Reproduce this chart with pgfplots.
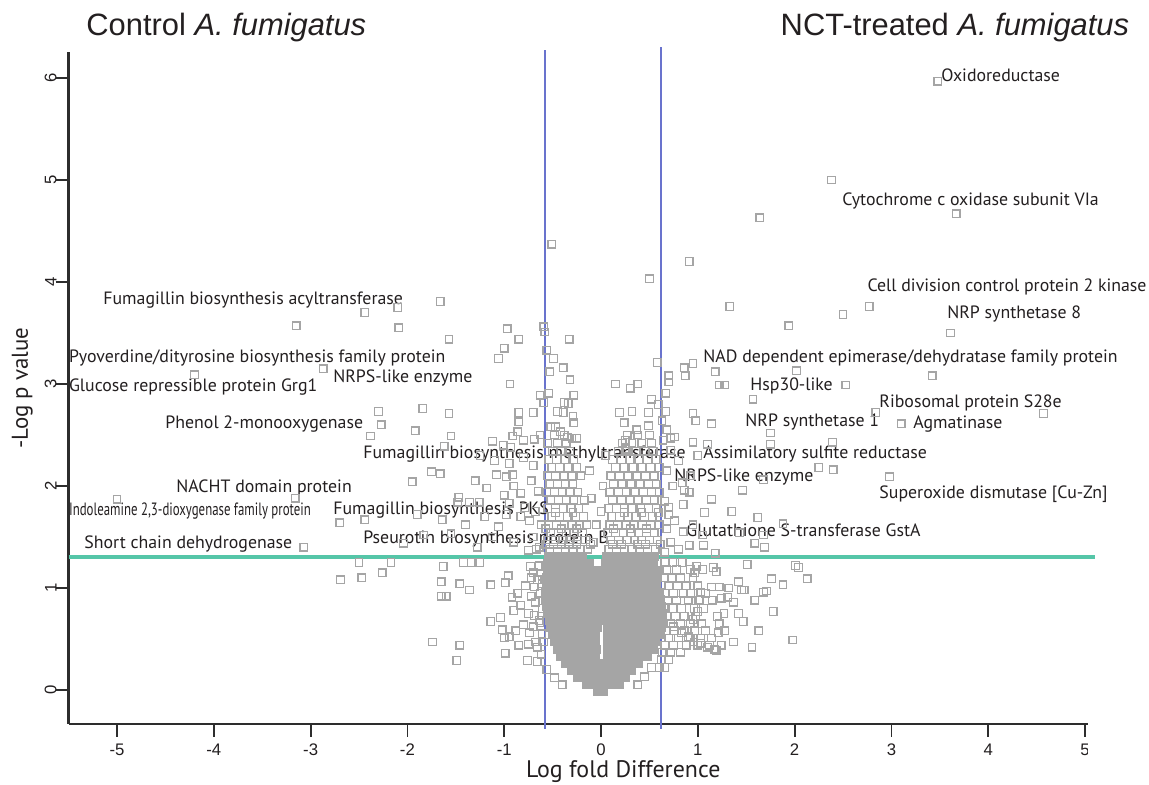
\documentclass[border=0pt]{standalone}
\usepackage{pgfplots}
\pgfplotsset{compat=1.18}
\usepackage{fontspec}
\usepackage{graphicx}
\setmainfont{PT Sans}
\newfontfamily\titlefont{Liberation Sans}
\newfontfamily\tickfont{Liberation Sans}

\definecolor{txt}{RGB}{35,31,32}
\definecolor{pt}{RGB}{165,165,165}
\definecolor{vline}{RGB}{105,115,205}
\definecolor{thr}{RGB}{85,198,168}
\definecolor{ax}{RGB}{45,45,45}

% dense centre of the volcano (drawn as filled squares)
\pgfplotstableread{
x y
-0.04 -0.02
0.03 -0.02
-0.15 0.05
-0.08 0.05
-0.01 0.05
0.06 0.05
0.13 0.05
0.19 0.05
-0.24 0.12
-0.17 0.12
-0.10 0.12
-0.03 0.12
0.04 0.12
0.11 0.12
0.18 0.12
0.25 0.12
-0.31 0.19
-0.24 0.19
-0.17 0.19
-0.10 0.19
-0.03 0.19
0.04 0.19
0.11 0.19
0.18 0.19
0.25 0.19
0.32 0.19
-0.37 0.26
-0.30 0.26
-0.23 0.26
-0.16 0.26
-0.09 0.26
-0.03 0.26
0.05 0.26
0.12 0.26
0.19 0.26
0.26 0.26
0.33 0.26
0.39 0.26
-0.42 0.33
-0.35 0.33
-0.28 0.33
-0.21 0.33
-0.14 0.33
-0.06 0.33
0.07 0.33
0.14 0.33
0.21 0.33
0.28 0.33
0.35 0.33
0.42 0.33
0.48 0.33
-0.45 0.40
-0.38 0.40
-0.31 0.40
-0.24 0.40
-0.17 0.40
-0.10 0.40
-0.05 0.40
0.07 0.40
0.14 0.40
0.21 0.40
0.28 0.40
0.35 0.40
0.42 0.40
0.49 0.40
0.54 0.40
-0.48 0.47
-0.41 0.47
-0.34 0.47
-0.27 0.47
-0.20 0.47
-0.13 0.47
-0.06 0.47
0.07 0.47
0.14 0.47
0.21 0.47
0.28 0.47
0.35 0.47
0.42 0.47
0.49 0.47
0.56 0.47
-0.50 0.54
-0.43 0.54
-0.36 0.54
-0.29 0.54
-0.22 0.54
-0.15 0.54
-0.06 0.54
0.07 0.54
0.14 0.54
0.21 0.54
0.28 0.54
0.35 0.54
0.42 0.54
0.49 0.54
0.56 0.54
0.62 0.54
-0.52 0.61
-0.45 0.61
-0.38 0.61
-0.31 0.61
-0.24 0.61
-0.17 0.61
-0.10 0.61
-0.04 0.61
0.07 0.61
0.14 0.61
0.21 0.61
0.28 0.61
0.35 0.61
0.42 0.61
0.49 0.61
0.56 0.61
0.63 0.61
-0.53 0.68
-0.46 0.68
-0.39 0.68
-0.32 0.68
-0.25 0.68
-0.18 0.68
-0.11 0.68
-0.04 0.68
0.03 0.68
0.10 0.68
0.17 0.68
0.24 0.68
0.31 0.68
0.38 0.68
0.45 0.68
0.52 0.68
0.59 0.68
0.64 0.68
-0.55 0.75
-0.48 0.75
-0.41 0.75
-0.34 0.75
-0.27 0.75
-0.20 0.75
-0.13 0.75
-0.06 0.75
0.01 0.75
0.08 0.75
0.15 0.75
0.22 0.75
0.29 0.75
0.36 0.75
0.43 0.75
0.50 0.75
0.57 0.75
0.64 0.75
-0.56 0.82
-0.49 0.82
-0.42 0.82
-0.35 0.82
-0.28 0.82
-0.21 0.82
-0.14 0.82
-0.07 0.82
0.00 0.82
0.07 0.82
0.14 0.82
0.21 0.82
0.28 0.82
0.35 0.82
0.42 0.82
0.49 0.82
0.56 0.82
0.63 0.82
-0.57 0.89
-0.50 0.89
-0.43 0.89
-0.36 0.89
-0.29 0.89
-0.22 0.89
-0.15 0.89
-0.08 0.89
-0.01 0.89
0.06 0.89
0.13 0.89
0.20 0.89
0.27 0.89
0.34 0.89
0.41 0.89
0.48 0.89
0.55 0.89
0.62 0.89
-0.57 0.96
-0.50 0.96
-0.43 0.96
-0.36 0.96
-0.29 0.96
-0.22 0.96
-0.15 0.96
-0.08 0.96
0.00 0.96
0.07 0.96
0.14 0.96
0.21 0.96
0.28 0.96
0.35 0.96
0.42 0.96
0.49 0.96
0.56 0.96
0.61 0.96
-0.56 1.03
-0.49 1.03
-0.42 1.03
-0.35 1.03
-0.28 1.03
-0.21 1.03
-0.14 1.03
-0.07 1.03
0.01 1.03
0.08 1.03
0.15 1.03
0.22 1.03
0.29 1.03
0.36 1.03
0.43 1.03
0.50 1.03
0.57 1.03
-0.56 1.10
-0.49 1.10
-0.42 1.10
-0.35 1.10
-0.28 1.10
-0.21 1.10
-0.14 1.10
-0.06 1.10
0.02 1.10
0.09 1.10
0.16 1.10
0.23 1.10
0.30 1.10
0.37 1.10
0.44 1.10
0.51 1.10
0.58 1.10
-0.55 1.17
-0.48 1.17
-0.41 1.17
-0.34 1.17
-0.27 1.17
-0.20 1.17
-0.13 1.17
-0.05 1.17
0.04 1.17
0.11 1.17
0.18 1.17
0.25 1.17
0.32 1.17
0.39 1.17
0.46 1.17
0.53 1.17
0.58 1.17
-0.55 1.24
-0.48 1.24
-0.41 1.24
-0.34 1.24
-0.27 1.24
-0.20 1.24
-0.12 1.24
0.05 1.24
0.12 1.24
0.19 1.24
0.26 1.24
0.33 1.24
0.40 1.24
0.47 1.24
0.54 1.24
-0.54 1.31
-0.47 1.31
-0.40 1.31
-0.33 1.31
-0.26 1.31
-0.19 1.31
0.06 1.31
0.13 1.31
0.20 1.31
0.27 1.31
0.34 1.31
0.41 1.31
0.48 1.31
0.55 1.31
}\coretable

% all other proteins
\pgfplotstableread{
x y
3.48 5.97
2.38 5.00
3.67 4.67
1.64 4.63
0.91 4.20
0.50 4.03
-0.51 4.37
2.77 3.76
2.50 3.68
1.94 3.57
1.33 3.76
3.61 3.50
3.42 3.08
2.02 3.13
2.53 2.99
1.57 2.85
2.84 2.72
4.57 2.71
3.10 2.61
2.39 2.43
1.75 2.52
1.75 2.41
2.98 2.09
2.25 2.18
2.40 2.16
1.46 1.96
1.88 1.63
1.62 1.69
1.59 1.44
1.69 1.40
2.01 1.22
1.51 1.23
1.68 2.06
0.86 1.96
0.91 1.94
0.85 1.82
1.14 1.87
1.07 1.74
1.35 1.75
0.70 1.79
0.70 1.72
1.68 1.52
0.91 1.42
1.06 1.42
2.04 1.20
2.13 1.09
1.88 1.03
1.76 1.09
1.68 0.96
1.71 0.97
1.59 0.88
1.78 0.77
1.63 0.58
1.98 0.49
1.56 0.42
1.37 0.47
1.21 0.56
1.17 0.40
1.22 0.65
1.14 1.01
1.22 1.01
1.32 1.00
1.42 1.06
1.45 0.98
1.48 0.98
1.19 1.16
1.16 1.20
0.99 1.21
0.97 1.15
1.24 0.90
1.31 0.91
1.37 0.86
1.42 0.75
1.47 0.67
1.27 0.75
1.03 0.96
1.01 0.88
1.00 0.77
0.95 0.69
0.75 0.62
0.83 0.56
0.90 0.52
0.96 0.47
1.03 0.46
1.10 0.42
1.19 0.39
0.58 3.21
0.70 3.08
0.70 3.02
0.86 3.16
0.87 3.08
0.95 3.20
1.18 3.12
1.22 2.99
1.28 2.99
0.15 3.00
0.30 2.96
0.38 3.00
0.52 2.85
0.59 2.80
0.67 2.91
0.19 2.72
0.32 2.73
0.49 2.72
0.24 2.62
0.49 2.59
0.63 2.64
0.67 2.73
0.37 2.55
0.68 2.55
0.72 2.47
0.76 2.48
0.95 2.71
0.98 2.64
1.14 2.61
0.95 2.43
1.10 2.41
0.25 2.45
0.25 2.36
0.84 2.03
1.43 1.54
1.18 1.34
1.05 1.52
-5.00 1.87
-3.16 1.88
-3.07 1.40
-4.20 3.09
-3.15 3.57
-2.87 3.15
-2.44 3.70
-2.10 3.75
-2.09 3.55
-1.66 3.81
-1.57 3.44
-2.30 2.73
-2.27 2.60
-2.38 2.49
-1.84 2.76
-1.92 2.54
-1.57 2.71
-1.55 2.49
-1.95 2.04
-2.70 1.64
-2.44 1.67
-2.50 1.25
-2.17 1.25
-2.69 1.08
-2.47 1.10
-2.26 1.15
-0.97 3.54
-0.85 3.44
-0.59 3.56
-0.58 3.51
-0.33 3.44
-1.00 3.35
-1.06 3.25
-0.56 3.33
-0.49 3.25
-0.39 3.16
-0.53 3.12
-0.32 3.04
-0.94 3.00
-0.63 2.89
-0.54 2.91
-0.59 2.82
-0.28 2.89
-0.38 2.82
-0.34 2.81
-0.85 2.72
-0.85 2.63
-0.70 2.72
-0.45 2.73
-0.39 2.72
-0.29 2.68
-0.28 2.62
-0.86 2.53
-0.91 2.49
-1.12 2.44
-1.62 2.39
-1.01 2.40
-0.93 2.38
-0.80 2.45
-0.69 2.46
-0.63 2.50
-0.52 2.58
-0.47 2.58
-0.42 2.53
-0.35 2.48
-0.30 2.47
-0.25 2.47
-1.75 2.14
-1.66 2.12
-1.08 2.11
-0.98 2.09
-0.91 2.11
-0.83 1.93
-1.00 1.91
-1.26 1.84
-1.48 1.84
-1.47 1.89
-1.36 1.84
-1.06 1.60
-0.74 1.66
-0.83 1.70
-0.79 1.79
-0.95 1.83
-1.55 1.53
-2.04 1.44
-1.83 1.52
-1.64 1.67
-1.90 1.72
-1.74 0.47
-1.46 0.44
-1.49 0.29
-0.99 0.36
-0.76 0.29
-1.04 0.71
-1.14 0.67
-1.02 0.59
-1.00 0.51
-0.85 0.44
-0.88 0.58
-0.75 0.75
-0.69 0.73
-0.74 0.56
-0.68 0.47
-0.59 0.47
-0.63 0.66
-1.65 0.92
-1.60 0.92
-1.65 1.06
-1.46 1.04
-1.36 0.98
-1.14 1.03
-0.99 1.05
-0.96 1.12
-0.92 0.91
-1.63 1.21
-1.42 1.25
-1.34 1.25
-1.25 1.25
-0.73 1.21
-0.65 1.21
-0.75 1.37
-0.67 1.38
-0.72 1.10
-0.66 1.08
-0.61 1.04
-0.69 1.01
-0.62 0.35
-0.66 0.42
-0.61 0.55
-0.70 0.62
-0.64 0.68
-0.61 0.80
-0.68 0.86
-0.63 0.95
-0.72 0.92
-0.61 1.08
-0.70 1.15
-0.64 1.22
-0.78 1.02
-0.83 0.83
-0.80 0.64
-0.90 0.78
-0.95 0.52
-0.86 0.95
-0.75 0.45
-0.66 0.28
-0.56 0.20
-0.48 0.12
-0.40 0.05
0.38 0.05
0.45 0.13
0.52 0.22
0.66 1.25
0.74 1.25
0.84 1.25
0.68 1.18
0.78 1.18
0.92 1.18
1.05 1.18
0.65 1.10
0.73 1.10
0.82 1.10
0.95 1.10
0.70 1.02
0.79 1.02
0.88 1.02
1.00 1.02
0.66 0.95
0.75 0.95
0.85 0.95
0.93 0.95
1.08 0.95
0.69 0.88
0.78 0.88
0.90 0.88
1.02 0.88
1.15 0.88
0.65 0.80
0.74 0.80
0.83 0.80
0.96 0.80
1.06 0.80
0.68 0.72
0.77 0.72
0.86 0.72
0.98 0.72
1.20 0.72
0.64 0.65
0.72 0.65
0.82 0.65
0.92 0.65
1.04 0.65
0.67 0.58
0.76 0.58
0.86 0.58
0.97 0.58
1.08 0.58
1.28 0.58
0.70 0.51
0.80 0.51
0.92 0.51
1.03 0.51
1.14 0.51
0.66 0.44
0.75 0.44
0.88 0.44
1.00 0.44
1.12 0.44
1.24 0.44
0.63 0.37
0.72 0.37
0.82 0.37
0.62 0.30
0.70 0.30
0.60 0.22
0.66 0.22
-0.53 1.38
-0.45 1.38
-0.37 1.38
-0.29 1.38
-0.21 1.38
-0.14 1.38
0.08 1.38
0.16 1.38
0.24 1.38
0.32 1.38
0.40 1.38
0.48 1.38
0.56 1.38
-0.57 1.43
-0.49 1.43
-0.41 1.43
-0.33 1.43
-0.25 1.43
-0.11 1.43
0.12 1.43
0.21 1.43
0.38 1.43
0.46 1.43
0.61 1.43
-0.55 1.47
-0.47 1.47
-0.40 1.47
-0.31 1.47
-0.24 1.47
-0.16 1.47
0.10 1.47
0.18 1.47
0.27 1.47
0.35 1.47
0.42 1.47
0.50 1.47
0.58 1.47
-0.52 1.54
-0.44 1.54
-0.36 1.54
-0.28 1.54
-0.19 1.54
0.07 1.54
0.15 1.54
0.23 1.54
0.31 1.54
0.39 1.54
0.47 1.54
0.55 1.54
-0.57 1.58
-0.41 1.58
-0.25 1.58
0.13 1.58
0.30 1.58
0.47 1.58
-0.54 1.62
-0.46 1.62
-0.38 1.62
-0.30 1.62
-0.22 1.62
-0.15 1.62
0.09 1.62
0.17 1.62
0.26 1.62
0.34 1.62
0.43 1.62
0.51 1.62
0.60 1.62
-0.51 1.70
-0.43 1.70
-0.35 1.70
-0.26 1.70
-0.18 1.70
0.11 1.70
0.19 1.70
0.28 1.70
0.36 1.70
0.45 1.70
0.53 1.70
-0.47 1.74
-0.29 1.74
0.24 1.74
0.42 1.74
0.59 1.74
-0.55 1.78
-0.47 1.78
-0.39 1.78
-0.31 1.78
-0.23 1.78
0.08 1.78
0.16 1.78
0.24 1.78
0.32 1.78
0.41 1.78
0.49 1.78
0.57 1.78
-0.52 1.86
-0.44 1.86
-0.36 1.86
-0.28 1.86
-0.17 1.86
0.12 1.86
0.21 1.86
0.30 1.86
0.38 1.86
0.47 1.86
0.55 1.86
-0.56 1.94
-0.48 1.94
-0.40 1.94
-0.32 1.94
-0.24 1.94
0.09 1.94
0.18 1.94
0.26 1.94
0.35 1.94
0.44 1.94
0.52 1.94
0.60 1.94
-0.53 2.02
-0.45 2.02
-0.37 2.02
-0.29 2.02
0.13 2.02
0.22 2.02
0.31 2.02
0.40 2.02
0.49 2.02
0.57 2.02
-0.55 2.10
-0.47 2.10
-0.38 2.10
-0.30 2.10
-0.21 2.10
0.10 2.10
0.19 2.10
0.28 2.10
0.37 2.10
0.46 2.10
0.55 2.10
-0.51 2.18
-0.43 2.18
-0.34 2.18
-0.25 2.18
0.15 2.18
0.24 2.18
0.33 2.18
0.42 2.18
0.51 2.18
0.60 2.18
-0.54 2.26
-0.46 2.26
-0.37 2.26
-0.28 2.26
0.12 2.26
0.21 2.26
0.30 2.26
0.39 2.26
0.48 2.26
0.57 2.26
-0.50 2.34
-0.41 2.34
-0.32 2.34
0.18 2.34
0.27 2.34
0.36 2.34
0.45 2.34
0.54 2.34
-0.55 2.42
-0.45 2.42
-0.36 2.42
0.22 2.42
0.32 2.42
0.42 2.42
0.52 2.42
-0.48 2.50
-0.38 2.50
0.27 2.50
0.38 2.50
0.50 2.50
-0.08 1.45
-0.05 1.62
0.00 1.75
-0.10 1.88
0.02 2.00
-0.12 2.15
0.05 2.30
-1.25 2.30
-1.10 2.25
-0.95 2.22
-0.80 2.28
-0.70 2.20
-1.30 2.05
-1.18 1.98
-0.90 2.00
-0.72 2.05
-0.65 1.95
-1.20 1.70
-0.98 1.72
-0.68 1.75
-1.12 1.50
-0.90 1.45
-0.70 1.50
-1.40 1.62
-1.28 1.40
-0.62 1.62
-0.64 1.40
0.66 1.35
0.72 1.45
0.80 1.38
0.68 1.58
0.76 1.66
0.66 1.85
0.74 2.00
0.68 2.15
0.80 2.25
0.72 2.35
0.85 1.55
0.95 1.62
0.92 2.10
1.00 2.30
0.64 2.45
}\pointtable

\begin{document}
\begin{tikzpicture}
\begin{axis}[
  scale only axis,
  width=509.7bp, height=336bp,
  xmin=-5.5, xmax=5.03, ymin=-0.333, ymax=6.255,
  axis lines*=left,
  axis line style={ax, line width=1.25bp},
  xtick={-5,-4,-3,-2,-1,0,1,2,3,4,5},
  ytick={0,1,2,3,4,5,6},
  tick align=outside,
  major tick length=6.5bp,
  tick style={ax, line width=0.9bp},
  /pgf/number format/assume math mode=true,
  ticklabel style={font=\tickfont\fontsize{8.4}{10}\selectfont, text=txt},
  yticklabel style={rotate=90, anchor=south},
  yticklabel shift=-4bp,
  clip=false,
]
\coordinate (bl) at (axis cs:-6.209,-0.922);
\coordinate (tr) at (axis cs:5.661,6.765);

\addplot[only marks, mark=square*, mark size=1.9bp,
  mark options={draw=pt, fill=pt, line width=0.6bp}] table {\coretable};
\addplot[only marks, mark=square, mark size=1.9bp,
  mark options={draw=pt, line width=0.65bp}] table {\pointtable};

% fold-change and significance cut-offs
\addplot[vline, line width=0.65bp] coordinates {(-0.58,-0.38) (-0.58,6.27)};
\addplot[vline, line width=0.65bp] coordinates {(0.62,-0.38) (0.62,6.30)};
\addplot[thr, line width=2bp] coordinates {(-5.5,1.30) (5.10,1.30)};

% protein names
\begin{scope}[every node/.style={anchor=west, inner sep=0pt, text=txt,
    font=\fontsize{8.95}{11}\selectfont}]
\node at (axis cs:-5.145,3.82) {Fumagillin biosynthesis acyltransferase};
\node at (axis cs:-5.50,3.26) {Pyoverdine/dityrosine biosynthesis family protein};
\node at (axis cs:-5.50,2.97) {Glucose repressible protein Grg1};
\node at (axis cs:-2.769,3.06) {NRPS-like enzyme};
\node at (axis cs:-4.504,2.61) {Phenol 2-monooxygenase};
\node at (axis cs:-2.459,2.31) {Fumagillin biosynthesis methyltransferase};
\node at (axis cs:-4.39,1.98) {NACHT domain protein};
\node at (axis cs:-5.50,1.75) {\scalebox{0.72}[1]{Indoleamine 2,3-dioxygenase family protein}};
\node at (axis cs:-2.769,1.76) {Fumagillin biosynthesis PKS};
\node at (axis cs:-5.341,1.43) {Short chain dehydrogenase};
\node at (axis cs:-2.459,1.48) {Pseurotin biosynthesis protein B};
\node at (axis cs:3.512,6.03) {Oxidoreductase};
\node at (axis cs:2.49,4.79) {Cytochrome c oxidase subunit VIa};
\node at (axis cs:2.75,3.95) {Cell division control protein 2 kinase};
\node at (axis cs:3.574,3.69) {NRP synthetase 8};
\node at (axis cs:1.054,3.26) {NAD dependent epimerase/dehydratase family protein};
\node at (axis cs:1.539,2.98) {Hsp30-like};
\node at (axis cs:2.872,2.81) {Ribosomal protein S28e};
\node at (axis cs:1.488,2.63) {NRP synthetase 1};
\node at (axis cs:3.223,2.61) {Agmatinase};
\node at (axis cs:1.054,2.31) {Assimilatory sulfite reductase};
\node at (axis cs:0.754,2.09) {NRPS-like enzyme};
\node at (axis cs:2.872,1.92) {Superoxide dismutase [Cu-Zn]};
\node at (axis cs:0.878,1.57) {Glutathione S-transferase GstA};
\end{scope}

% group titles
\node[anchor=west, inner sep=0pt, text=txt, font=\titlefont\fontsize{15.5}{18}\selectfont]
  at (axis cs:-5.32,6.50) {Control \textit{A. fumigatus}};
\node[anchor=east, inner sep=0pt, text=txt, font=\titlefont\fontsize{15.5}{18}\selectfont]
  at (axis cs:5.46,6.50) {NCT-treated \textit{A. fumigatus}};

% axis titles
\node[inner sep=0pt, text=txt, font=\fontsize{12}{14}\selectfont]
  at (axis cs:0.23,-0.80) {Log fold Difference};
\node[inner sep=0pt, text=txt, rotate=90, font=\fontsize{11.5}{13}\selectfont]
  at (axis cs:-5.98,2.96) {-Log p value};

% the source figure is cropped through the last tick label
\fill[white] (axis cs:5.03,-0.45) rectangle (axis cs:5.7,-0.72);
\end{axis}
\pgfresetboundingbox
\path[use as bounding box] (bl) rectangle (tr);
\end{tikzpicture}
\end{document}
